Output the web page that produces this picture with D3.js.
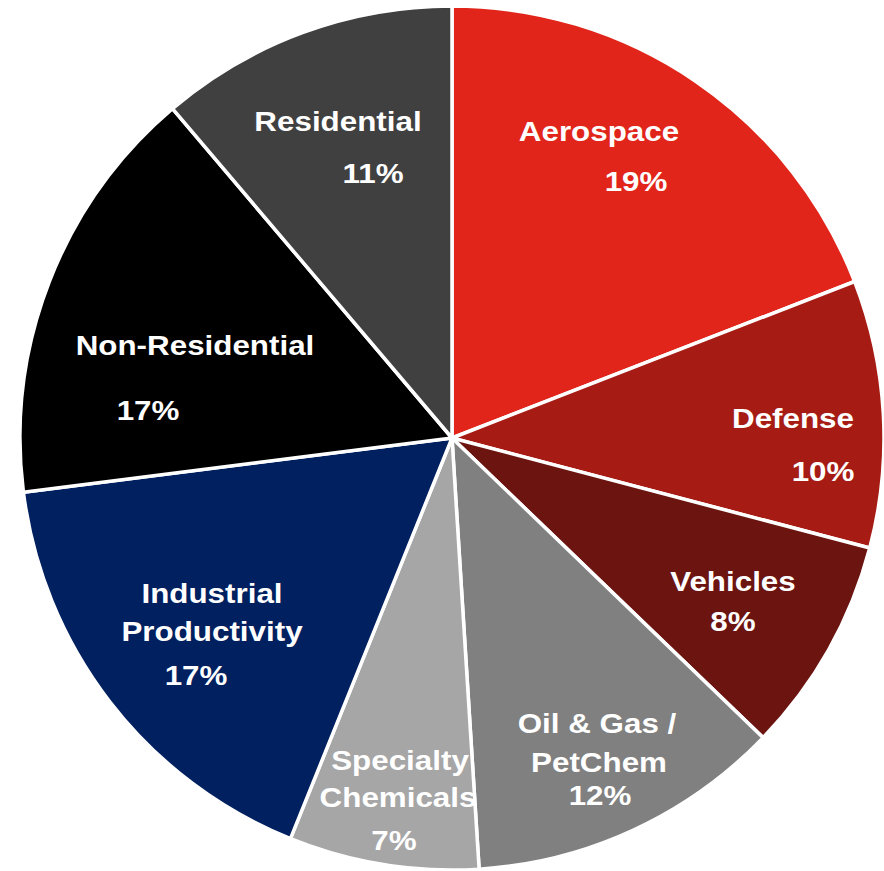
<!DOCTYPE html>
<html>
<head>
<meta charset="utf-8">
<script src="https://cdn.jsdelivr.net/npm/d3@7"></script>
<style>
  html, body { margin: 0; padding: 0; background: #fff; }
  svg { display: block; }
</style>
</head>
<body>
<svg id="pie"></svg>
<script>
// Segments, clockwise from 12 o'clock
const categories = ["Aerospace", "Defense", "Vehicles", "Oil & Gas / PetChem",
  "Specialty Chemicals", "Industrial Productivity", "Non-Residential", "Residential"];
// slice shares (labels are rounded)
const shares = [19.1, 10.0, 8.1, 11.8, 7.1, 16.9, 15.8, 11.2];
const pctLabels = ["19%", "10%", "8%", "12%", "7%", "17%", "17%", "11%"];
const colors = ["#e1251b", "#a61c14", "#6b1410", "#808080",
  "#a6a6a6", "#002060", "#000000", "#404040"];

// label lines per slice (text split), positions relative to pie centre
const labelLayout = [
  [["Aerospace", 147, -297], ["19%", 184, -247]],
  [["Defense", 341, -10], ["10%", 371, 43]],
  [["Vehicles", 281, 153], ["8%", 281, 193]],
  [["Oil & Gas /", 145, 295], ["PetChem", 147, 334], ["12%", 148, 367]],
  [["Specialty", -52, 332], ["Chemicals", -54, 369], ["7%", -58, 412]],
  [["Industrial", -240, 165], ["Productivity", -240, 203], ["17%", -256, 247]],
  [["Non-Residential", -257, -83], ["17%", -304, -18]],
  [["Residential", -114, -307], ["11%", -79, -255]]
];

const width = 884, height = 871;
const cx = 452, cy = 438, radius = 432;

const svg = d3.select("#pie")
    .attr("width", width)
    .attr("height", height);

const g = svg.append("g")
    .attr("transform", `translate(${cx},${cy})`);

const pie = d3.pie().sort(null).value(d => d);
const arc = d3.arc().innerRadius(0).outerRadius(radius);

g.selectAll("path")
  .data(pie(shares))
  .join("path")
    .attr("d", arc)
    .attr("fill", (d, i) => colors[i])
    .attr("stroke", "#fff")
    .attr("stroke-width", 3.5)
    .attr("stroke-linejoin", "round");

// labels
labelLayout.forEach((lines, i) => {
  lines.forEach(([txt, x, y], j) => {
    const isPct = j === lines.length - 1;
    g.append("text")
      .attr("transform", `translate(${x},${y}) scale(1.12,1)`)
      .attr("text-anchor", "middle")
      .attr("fill", "#fff")
      .attr("font-family", "Liberation Sans, Arial, sans-serif")
      .attr("font-weight", "bold")
      .attr("font-size", 28)
      .text(isPct ? pctLabels[i] : txt);
  });
});
</script>
</body>
</html>
